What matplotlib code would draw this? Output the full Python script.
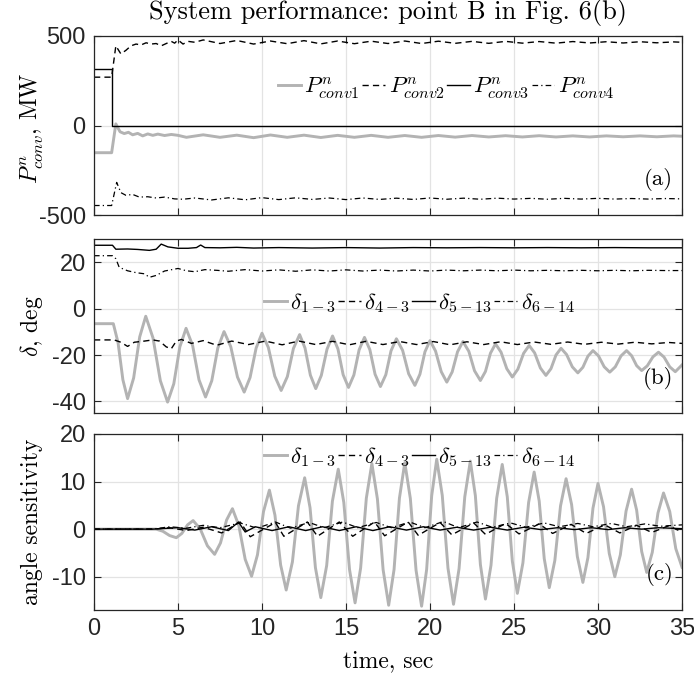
import matplotlib
matplotlib.use('Agg')
import matplotlib.pyplot as plt

plt.rcParams['font.family'] = ['Liberation Sans', 'DejaVu Sans']
plt.rcParams['mathtext.fontset'] = 'cm'
plt.rcParams['axes.unicode_minus'] = False

# ---- panel (a): converter powers, MW ----
p1_t = [0, 1.05, 1.3, 1.55, 1.8, 2.05, 2.3, 2.6, 2.9, 3.2, 3.5, 3.8, 4.2, 4.6, 5.0,
        5.5, 6.5, 7.5, 8.5, 9.5, 10.5, 11.5, 12.5, 13.5, 14.5, 15.5, 16.5, 17.5, 18.5,
        19.5, 20.5, 21.5, 22.5, 23.5, 24.5, 25.5, 26.5, 27.5, 28.5, 29.5, 30.5, 31.5,
        32.5, 33.5, 34.5, 35]
p1_v = [-152, -152, 9, -35, -45, -38, -52, -44, -58, -47, -55, -48, -56, -50, -55,
        -66, -52, -66, -54, -68, -53, -66, -54, -67, -55, -66, -55, -66, -56,
        -66, -56, -65, -56, -64, -57, -64, -57, -64, -58, -64, -58, -63,
        -58, -63, -58, -60]
p2_t = [0, 1.05, 1.3, 1.6, 1.9, 2.2, 2.5, 2.8, 3.1, 3.4, 3.7, 4.0, 4.3, 4.6, 4.8, 5.0,
        5.3, 5.6, 6.0, 6.5, 7.5, 8.5, 9.5, 10.5, 11.5, 12.5, 13.5, 14.5, 15.5, 16.5,
        17.5, 18.5, 19.5, 20.5, 21.5, 22.5, 23.5, 24.5, 25.5, 26.5, 27.5, 28.5, 29.5,
        30.5, 31.5, 32.5, 33.5, 34.5, 35]
p2_v = [270, 270, 445, 400, 420, 445, 455, 450, 462, 455, 458, 445, 458, 470, 460, 478,
        455, 470, 465, 478, 458, 475, 455, 472, 457, 474, 456, 472, 457, 471,
        458, 472, 458, 471, 459, 470, 459, 470, 460, 469, 460, 469, 461,
        468, 461, 468, 462, 467, 465]
p3_t = [0, 1.05, 1.05, 35]
p3_v = [318, 318, 0, 0]
p4_t = [0, 1.05, 1.35, 1.6, 1.9, 2.3, 2.7, 3.2, 3.7, 4.2, 4.8, 5.3, 6.0, 7.0, 8.0,
        9.0, 10.0, 11.0, 12.0, 13.0, 14.0, 15.0, 16.0, 17.0, 18.0, 19.0, 20.0, 21.0,
        22.0, 23.0, 24.0, 25.0, 26.0, 27.0, 28.0, 29.0, 30.0, 31.0, 32.0, 33.0, 34.0, 35]
p4_v = [-447, -447, -318, -375, -390, -385, -400, -398, -405, -400, -410, -412, -405,
        -416, -404, -415, -403, -414, -404, -413, -405, -414, -405, -413, -406, -413,
        -405, -412, -406, -412, -406, -411, -407, -412, -407, -411, -407, -411, -408,
        -411, -408, -410]

# ---- panel (b): rotor angles, deg ----
d13_t = [0, 1.15, 1.43, 1.72, 2.0, 2.36, 2.72, 3.08, 3.51, 3.95, 4.38, 4.75, 5.11, 5.48,
         5.87, 6.25, 6.64, 7.01, 7.37, 7.74, 8.14, 8.54, 8.94, 9.29, 9.65, 10.0, 10.38,
         10.76, 11.14, 11.51, 11.87, 12.24, 12.56, 12.88, 13.2, 13.53, 13.87, 14.2, 14.52,
         14.83, 15.15, 15.47, 15.78, 16.1, 16.42, 16.73, 17.05, 17.37, 17.68, 18.0, 18.37,
         18.73, 19.1, 19.4, 19.7, 20.0, 20.33, 20.67, 21.0, 21.32, 21.64, 21.96, 22.31,
         22.65, 23.0, 23.3, 23.6, 23.9, 24.23, 24.57, 24.9, 25.23, 25.57, 25.9, 26.23,
         26.57, 26.9, 27.2, 27.5, 27.8, 28.13, 28.47, 28.8, 29.1, 29.4, 29.7, 30.03,
         30.37, 30.7, 31.03, 31.37, 31.7, 32.0, 32.3, 32.6, 32.93, 33.27, 33.6, 33.93,
         34.27, 34.6, 35]
d13_v = [-6.5, -6.5, -14.6, -30.7, -38.8, -29.9, -12.2, -3.3, -12.6, -31.1, -40.3, -32.4,
         -16.5, -8.5, -15.9, -30.7, -38.1, -31.1, -17.0, -9.9, -16.4, -29.5, -36.0, -29.7,
         -17.0, -10.6, -16.8, -29.1, -35.3, -29.3, -17.2, -11.2, -17.0, -28.7, -34.5,
         -28.8, -17.5, -11.8, -17.4, -28.5, -34.0, -28.6, -17.8, -12.4, -17.7, -28.3,
         -33.6, -28.5, -18.2, -13.0, -18.0, -28.1, -33.1, -28.3, -18.6, -13.8, -18.3,
         -27.2, -31.7, -27.3, -18.6, -14.2, -18.4, -26.8, -31.0, -27.1, -19.2, -15.2,
         -18.8, -25.9, -29.5, -26.1, -19.3, -15.9, -19.1, -25.6, -28.8, -25.9, -20.0,
         -17.1, -19.8, -25.1, -27.7, -25.3, -20.5, -18.1, -20.4, -25.1, -27.4, -25.1,
         -20.4, -18.1, -20.3, -24.6, -26.7, -24.7, -20.8, -18.8, -20.9, -25.1, -27.2,
         -24.3]
d43_t = [0, 1.2, 1.6, 2.0, 2.4, 3.0, 3.5, 3.9, 4.3, 4.6, 4.9, 5.2, 5.8, 6.5, 7.3, 8.2,
         9.2, 10.2, 11.2, 12.2, 13.2, 14.2, 15.2, 16.2, 17.2, 18.2, 19.2, 20.2, 21.2,
         22.2, 23.2, 24.2, 25.2, 26.2, 27.2, 28.2, 29.2, 30.2, 31.2, 32.2, 33.2, 34.2, 35]
d43_v = [-13.5, -13.5, -14.5, -16.3, -14.5, -14.0, -13.5, -14.0, -16.5, -17.3, -14.0,
         -13.3, -15.0, -13.8, -15.8, -14.0, -15.5, -14.0, -15.6, -14.0, -15.5, -14.1,
         -15.6, -14.1, -15.5, -14.2, -15.5, -14.2, -15.6, -14.3, -15.5, -14.3, -15.5,
         -14.4, -15.4, -14.4, -15.4, -14.5, -15.3, -14.5, -15.2, -14.6, -15.0]
d513_t = [0, 1.1, 1.3, 2.0, 2.6, 3.3, 3.7, 4.0, 4.4, 5.0, 5.6, 6.1, 6.35, 6.6, 7.5,
          8.5, 9.5, 11, 13, 15, 17, 19, 21, 23, 25, 27, 29, 31, 33, 35]
d513_v = [27.3, 27.3, 25.6, 25.7, 25.5, 25.1, 25.6, 27.8, 26.6, 26.0, 26.0, 26.3, 27.4,
          26.3, 26.2, 26.4, 26.1, 26.3, 26.1, 26.3, 26.1, 26.3, 26.2, 26.3, 26.2, 26.3,
          26.2, 26.3, 26.2, 26.2]
d614_t = [0, 1.1, 1.3, 1.5, 2.0, 2.5, 3.0, 3.3, 3.7, 4.2, 5.0, 5.5, 6.0, 6.6, 7.3, 8.0,
          9.0, 10, 11, 12, 13, 14, 15, 16, 17, 18, 19, 20, 21, 22, 23, 24, 25, 26, 27,
          28, 29, 30, 31, 32, 33, 34, 35]
d614_v = [22.8, 22.8, 21.5, 17.8, 16.3, 15.5, 15.0, 13.5, 14.3, 16.2, 17.3, 16.3, 15.9,
          16.8, 16.5, 16.1, 16.8, 16.2, 16.7, 16.1, 16.7, 16.2, 16.7, 16.2, 16.6, 16.2,
          16.6, 16.2, 16.6, 16.3, 16.6, 16.3, 16.6, 16.3, 16.5, 16.3, 16.5, 16.3, 16.5,
          16.3, 16.5, 16.4, 16.4]

# ---- panel (c): angle sensitivity ----
s13_t = [0, 3.7, 4.1, 4.5, 4.9, 5.23, 5.57, 5.9, 6.33, 6.75, 7.18, 7.53, 7.89, 8.24, 8.62,
         9.0, 9.38, 9.73, 10.09, 10.44, 10.77, 11.11, 11.44, 11.81, 12.17, 12.54, 12.86,
         13.18, 13.5, 13.85, 14.19, 14.54, 14.87, 15.21, 15.54, 15.87, 16.21, 16.54, 16.87,
         17.21, 17.54, 17.86, 18.18, 18.5, 18.83, 19.17, 19.5, 19.8, 20.1, 20.4, 20.73,
         21.07, 21.4, 21.73, 22.07, 22.4, 22.7, 23.0, 23.3, 23.63, 23.97, 24.3, 24.6, 24.9,
         25.2, 25.53, 25.87, 26.2, 26.5, 26.8, 27.1, 27.43, 27.77, 28.1, 28.43, 28.77,
         29.1, 29.4, 29.7, 30.0, 30.33, 30.67, 31.0, 31.33, 31.67, 32.0, 32.3, 32.6, 32.9,
         33.23, 33.57, 33.9, 34.27, 34.63, 35]
s13_v = [0, 0, -0.45, -1.35, -1.8, -0.9, 0.9, 1.8, 0.0, -3.5, -5.3, -2.9, 1.9, 4.3, 0.75,
         -6.35, -9.9, -5.4, 3.7, 8.2, 2.95, -7.55, -12.8, -6.9, 4.9, 10.8, 4.5, -8.1,
         -14.4, -7.65, 5.85, 12.6, 5.6, -8.5, -15.5, -8.2, 6.5, 13.8, 6.35, -8.55, -16.0,
         -8.5, 6.5, 14.0, 6.45, -8.65, -16.2, -8.5, 7.0, 14.7, 7.1, -8.2, -15.8, -8.3, 6.8,
         14.3, 7.05, -7.45, -14.7, -7.6, 6.5, 13.6, 6.8, -6.7, -13.5, -7.1, 5.6, 12.0, 5.9,
         -6.2, -12.3, -6.6, 4.9, 10.6, 5.15, -5.75, -11.2, -6.0, 4.4, 9.6, 4.7, -5.1, -10.0,
         -5.4, 3.8, 8.4, 4.0, -4.7, -9.1, -4.9, 3.4, 7.6, 3.7, -4.1, -8.0]
s43_t = [0, 3.5, 4.5, 5.5, 6.5, 7.6, 8.7, 9.3, 10.8, 11.3, 12.7, 13.3, 14.6, 15.4, 16.7,
         17.3, 18.7, 19.3, 20.6, 21.3, 22.6, 23.3, 24.5, 25.3, 26.5, 27.3, 28.4, 29.3,
         30.4, 31.3, 32.3, 33.2, 34.2, 35]
s43_v = [0, 0, 0.3, -0.3, 0.4, -0.8, 1.5, -1.6, 1.4, -1.5, 1.5, -1.5, 1.5, -1.5, 1.5,
         -1.4, 1.5, -1.3, 1.4, -1.2, 1.3, -1.1, 1.2, -1.0, 1.1, -0.9, 1.0, -0.9, 0.9,
         -0.8, 0.8, -0.7, 0.7, -0.6]
s513_t = [0, 3.5, 5.0, 6.0, 7.0, 8.0, 8.6, 9.0, 9.6, 10.6, 11.6, 12.6, 13.6, 14.6, 15.6,
          16.6, 17.6, 18.6, 19.6, 20.6, 21.6, 22.6, 23.6, 24.6, 25.6, 26.6, 27.6, 28.6,
          29.6, 30.6, 31.6, 32.6, 33.6, 35]
s513_v = [0, 0, 0.3, -0.2, 0.5, -0.3, 1.5, -0.6, 0.5, -0.3, 0.5, -0.3, 0.5, -0.3, 0.5,
          -0.3, 0.5, -0.2, 0.5, -0.2, 0.4, -0.2, 0.4, -0.2, 0.4, -0.1, 0.3, -0.1, 0.3,
          -0.1, 0.3, 0.0, 0.3, 0.1]
s614_t = [0, 3.5, 4.5, 5.5, 6.5, 7.5, 8.7, 9.7, 10.8, 11.7, 12.8, 13.7, 14.8, 15.7, 16.8,
          17.7, 18.8, 19.7, 20.8, 21.7, 22.8, 23.7, 24.8, 25.7, 26.8, 27.7, 28.8, 29.7,
          30.8, 31.7, 32.8, 33.7, 35]
s614_v = [0, 0, 0.5, 0.2, 0.8, 0.3, 1.3, 0.2, 1.5, 0.2, 1.4, 0.3, 1.5, 0.3, 1.4, 0.3,
          1.5, 0.3, 1.6, 0.3, 1.5, 0.4, 1.3, 0.4, 1.3, 0.5, 1.2, 0.5, 1.2, 0.5, 1.1,
          0.6, 0.9]

p_labels = [r'$P^{n}_{conv1}$', r'$P^{n}_{conv2}$', r'$P^{n}_{conv3}$', r'$P^{n}_{conv4}$']
d_labels = [r'$\delta_{1-3}$', r'$\delta_{4-3}$', r'$\delta_{5-13}$', r'$\delta_{6-14}$']

W, H = 694, 673
fig = plt.figure(figsize=(W / 100, H / 100), dpi=100)


def px_axes(top, bottom, left=94, right=682):
    return fig.add_axes([left / W, 1 - bottom / H, (right - left) / W, (bottom - top) / H])


ax_a = px_axes(36, 215)
ax_b = px_axes(239, 413)
ax_c = px_axes(434, 610)

GRAY = '#b3b3b3'
DASH = (4.5, 3)
DASHDOT = (4.5, 2.5, 1, 2.5)


def draw(ax, series, labels):
    (t1, v1), (t2, v2), (t3, v3), (t4, v4) = series
    ax.plot(t1, v1, color=GRAY, lw=2.1, label=labels[0])
    ax.plot(t2, v2, color='k', lw=1.0, dashes=DASH, label=labels[1])
    ax.plot(t3, v3, color='k', lw=1.0, label=labels[2])
    ax.plot(t4, v4, color='k', lw=0.9, dashes=DASHDOT, label=labels[3])


def style(ax, ylim, yticks, xlabels=False):
    ax.set_xlim(0, 35)
    ax.set_ylim(*ylim)
    ax.set_xticks(range(0, 36, 5))
    ax.set_yticks(yticks)
    ax.grid(True, color='#e3e3e3', lw=0.9)
    ax.set_axisbelow(True)
    ax.tick_params(direction='in', top=True, right=True, length=5, width=0.8,
                   colors='#262626', labelsize=17, pad=6)
    for s in ax.spines.values():
        s.set_color('#262626')
        s.set_linewidth(0.9)
    if not xlabels:
        ax.set_xticklabels([])


def legend(ax, x, y):
    ax.legend(loc='center', bbox_to_anchor=(x, y), ncol=4, frameon=False, fontsize=16.5,
              handlelength=1.0, handletextpad=0.15, columnspacing=0.1, borderpad=0)


draw(ax_a, [(p1_t, p1_v), (p2_t, p2_v), (p3_t, p3_v), (p4_t, p4_v)], p_labels)
draw(ax_b, [(d13_t, d13_v), (d43_t, d43_v), (d513_t, d513_v), (d614_t, d614_v)], d_labels)
draw(ax_c, [(s13_t, s13_v), (s43_t, s43_v), (s513_t, s513_v), (s614_t, s614_v)], d_labels)

style(ax_a, (-500, 500), [-500, 0, 500])
style(ax_b, (-45, 30), [-40, -20, 0, 20])
style(ax_c, (-17, 20), [-10, 0, 10, 20], xlabels=True)

legend(ax_a, 0.599, 0.71)
legend(ax_b, 0.553, 0.63)
legend(ax_c, 0.553, 0.87)

SERIF = 'cmr10'
for ax, tag in [(ax_a, '(a)'), (ax_b, '(b)'), (ax_c, '(c)')]:
    ax.text(0.985, 0.2, tag, transform=ax.transAxes, ha='right', va='center',
            family=SERIF, fontsize=16.5)

fig.text(388 / W, 1 - 13 / H, 'System performance: point B in Fig. 6(b)',
         ha='center', va='center', family=SERIF, fontsize=19)
fig.text(32 / W, 1 - 128 / H, r'$P^{n}_{conv}$, MW', rotation=90, ha='center',
         va='center', family=SERIF, fontsize=17)
fig.text(32 / W, 1 - 326 / H, r'$\delta$, deg', rotation=90, ha='center',
         va='center', family=SERIF, fontsize=17)
fig.text(32 / W, 1 - 522 / H, 'angle sensitivity', rotation=90, ha='center',
         va='center', family=SERIF, fontsize=17)
fig.text(388 / W, 1 - 661 / H, 'time, sec', ha='center', va='center',
         family=SERIF, fontsize=17)

fig.savefig('out.png', dpi=100)
